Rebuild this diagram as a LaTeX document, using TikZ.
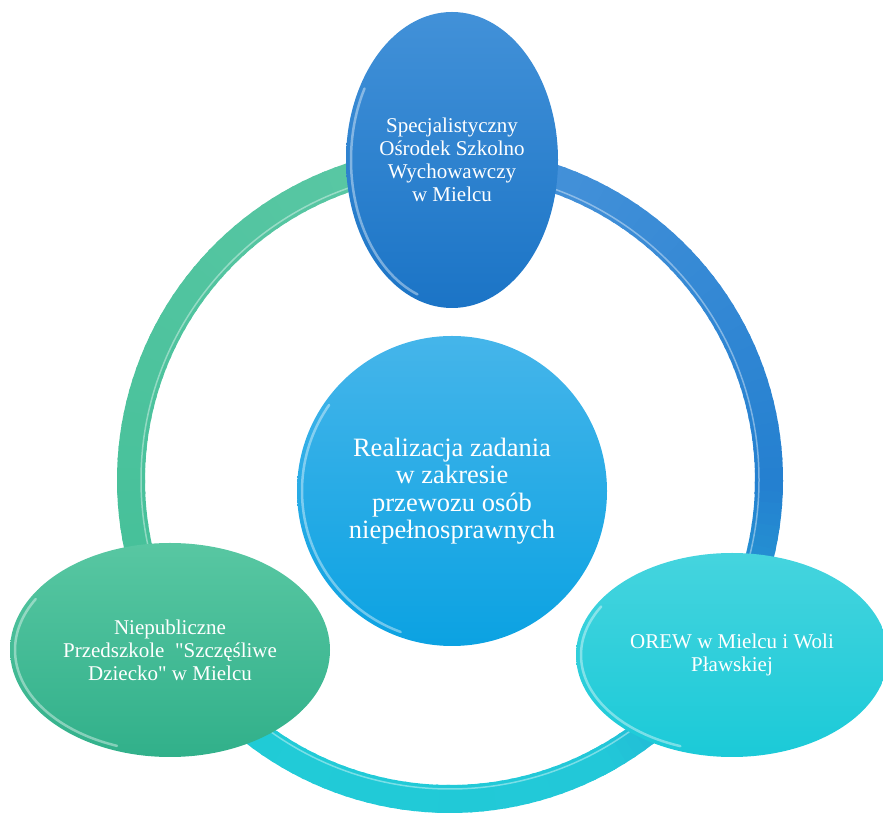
\documentclass[tikz,border=0pt]{standalone}
\usepackage{fontspec}
\setmainfont{Liberation Serif}
\usetikzlibrary{shapes.geometric}
\definecolor{ringTop}{HTML}{4C95DB}
\definecolor{ringBlue}{HTML}{2480D0}
\definecolor{ringCyan}{HTML}{22C8D8}
\definecolor{ringCyanB}{HTML}{20CCD6}
\definecolor{ringGreenA}{HTML}{5CC8A5}
\definecolor{ringGreenB}{HTML}{3FBE96}
\definecolor{topA}{HTML}{4291D8}
\definecolor{topB}{HTML}{1B74C6}
\definecolor{midA}{HTML}{45B5EA}
\definecolor{midB}{HTML}{0BA2E2}
\definecolor{leftA}{HTML}{58C7A2}
\definecolor{leftB}{HTML}{31B08A}
\definecolor{rightA}{HTML}{45D4DE}
\definecolor{rightB}{HTML}{1BCAD8}
\tikzset{
  bubble/.style={ellipse, inner sep=0pt, align=center, text=white, font=\fontsize{21}{23}\selectfont},
  ringseg/.style={line width=28pt},
  gloss/.style={white, opacity=0.4, line width=2.5pt, line cap=round},
}
\begin{document}
\begin{tikzpicture}[x=1pt,y=1pt]
\useasboundingbox (0,0) rectangle (883,816);
\coordinate (ringc) at (450,336);
% green part of ring (left)
\foreach \a in {90,92,...,226}{
  \pgfmathsetmacro\p{(\a-90)/136*100}
  \draw[ringseg, color=ringGreenB!\p!ringGreenA] (ringc) ++(\a:319) arc[start angle=\a, end angle=\a+2.6, radius=319];
}
% blue -> cyan part (right and bottom)
\foreach \a in {92,90,...,0}{
  \pgfmathsetmacro\p{(92-\a)/92*100}
  \draw[ringseg, color=ringBlue!\p!ringTop] (ringc) ++(\a:319) arc[start angle=\a, end angle=\a-2.6, radius=319];
}
\foreach \a in {0,-2,...,-60}{
  \pgfmathsetmacro\p{(-\a)/60*100}
  \draw[ringseg, color=ringCyan!\p!ringBlue] (ringc) ++(\a:319) arc[start angle=\a, end angle=\a-2.6, radius=319];
}
\foreach \a in {-60,-62,...,-142}{
  \pgfmathsetmacro\p{(-60-\a)/82*100}
  \draw[ringseg, color=ringCyanB!\p!ringCyan] (ringc) ++(\a:319) arc[start angle=\a, end angle=\a-2.6, radius=319];
}
\draw[white, opacity=0.4, line width=1.5pt] (ringc) circle[radius=309];

% centre circle
\node[bubble, circle, minimum size=310pt, top color=midA, bottom color=midB,
      font=\fontsize{26.5}{27.5}\selectfont] (mid) at (452,325)
  {Realizacja zadania\\w zakresie\\przewozu osób\\niepełnosprawnych};
\draw[gloss] (mid.center) ++(145:150) arc[start angle=145, end angle=250, radius=150];

% top ellipse
\node[bubble, minimum width=212pt, minimum height=296pt, top color=topA, bottom color=topB] (top) at (452,656)
  {Specjalistyczny\\Ośrodek Szkolno\\Wychowawczy\\w Mielcu};
\draw[gloss] (top.center) ++(150:101 and 143) arc[start angle=150, end angle=250, x radius=101, y radius=143];

% left ellipse
\node[bubble, minimum width=320pt, minimum height=214pt, top color=leftA, bottom color=leftB] (left) at (170,166)
  {Niepubliczne\\Przedszkole\ \ \textquotedbl Szczęśliwe\\Dziecko\textquotedbl\ w Mielcu};
\draw[gloss] (left.center) ++(150:155 and 102) arc[start angle=150, end angle=250, x radius=155, y radius=102];

% right ellipse
\node[bubble, minimum width=312pt, minimum height=204pt, top color=rightA, bottom color=rightB] (right) at (732,161)
  {OREW w Mielcu i Woli\\Pławskiej};
\draw[gloss] (right.center) ++(150:151 and 97) arc[start angle=150, end angle=250, x radius=151, y radius=97];
\end{tikzpicture}
\end{document}
